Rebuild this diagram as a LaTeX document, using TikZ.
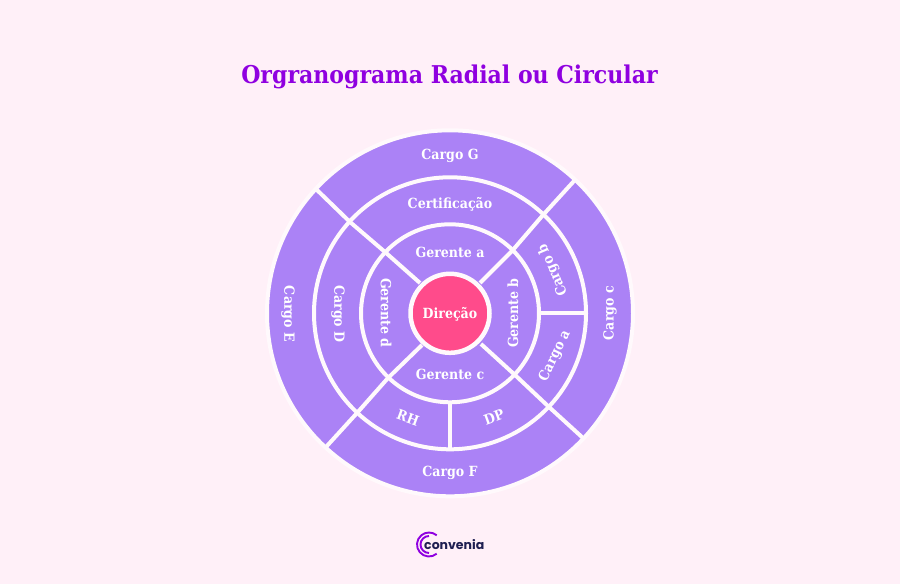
\documentclass[tikz,border=0pt]{standalone}
\usepackage{fontspec}
\setmainfont[FakeStretch=0.9]{DejaVu Serif}
\newfontfamily\logofont{Poppins}
\definecolor{bgpink}{HTML}{FFF0F8}
\definecolor{ringpurple}{HTML}{AB82F6}
\definecolor{corepink}{HTML}{FF4B8B}
\definecolor{titlepurple}{HTML}{8F00E0}
\definecolor{logonavy}{HTML}{1F1F52}
\colorlet{bgwhite}{bgpink!40!white}
\tikzset{
  lbl/.style={text=white,font=\fontsize{14}{15}\selectfont\bfseries,inner sep=0pt},
  ringline/.style={draw=bgwhite,line width=4pt,fill=none},
  spoke/.style={draw=bgwhite,line width=4pt,line cap=butt},
  logoarc/.style={draw=titlepurple,line width=1.9pt},
}
\begin{document}
\begin{tikzpicture}[x=1pt,y=-1pt]
\useasboundingbox (0,0) rectangle (900,584);
\fill[bgpink] (0,0) rectangle (900,584);
\node[font=\fontsize{24.5}{28}\selectfont\bfseries,text=titlepurple,inner sep=0pt] (title) at (449.5,77) {Orgranograma Radial ou Circular};
\coordinate (o) at (450,313.3);
\fill[ringpurple,draw=bgwhite,line width=4pt] (o) circle[radius=183];
\draw[ringline] (o) circle[radius=136];
\draw[ringline] (o) circle[radius=89];
% spokes
\coordinate (tr0) at (480,283); \coordinate (tr1) at (512,251);
\coordinate (tr2) at (543,215); \coordinate (tr3) at (574,181);
\coordinate (tl0) at (420,283); \coordinate (tl1) at (385,252);
\coordinate (tl2) at (350,222); \coordinate (tl3) at (317,190);
\coordinate (bl0) at (422,345); \coordinate (bl1) at (388,378);
\coordinate (bl2) at (357,413); \coordinate (bl3) at (326,447);
\coordinate (br0) at (481,344); \coordinate (br1) at (515,375);
\coordinate (br2) at (549,407); \coordinate (br3) at (583,438);
\foreach \s in {tr,tl,bl,br}{
  \draw[spoke] (\s0) -- (\s1) -- (\s2) -- (\s3);
}
\draw[spoke] (541,313.3) -- (584,313.3);
\draw[spoke] (450,401) -- (450,448);
\fill[corepink,draw=bgwhite,line width=4.5pt] (o) circle[radius=39.5];
\node[lbl] (dir) at (450,314) {Direção};
\node[lbl] (g) at (450,156) {Cargo G};
\node[lbl] (cert) at (450,204) {Certificação};
\node[lbl] (ga) at (450,252.5) {Gerente a};
\node[lbl] (gc) at (450,374.5) {Gerente c};
\node[lbl] (f) at (450,473) {Cargo F};
\node[lbl,rotate=90] (gb) at (513,313) {Gerente b};
\node[lbl,rotate=-90] (gd) at (386,313) {Gerente d};
\node[lbl,rotate=-90] (d) at (338,314) {Cargo D};
\node[lbl,rotate=-90] (e) at (288,314) {Cargo E};
\node[lbl,rotate=90] (c) at (610,313) {Cargo c};
\node[lbl,rotate=64] (a) at (555,356) {Cargo a};
\node[lbl,rotate=113] (b) at (553,270) {Cargo b};
\node[lbl,rotate=-20] (rh) at (408,418) {RH};
\node[lbl,rotate=20] (dp) at (494,417) {DP};
% logo
\coordinate (lg) at (429,544.5);
\draw[logoarc] (lg) ++(50:12) arc[start angle=50,end angle=310,radius=12];
\draw[logoarc] (lg) ++(90:8.5) arc[start angle=90,end angle=270,radius=8.5];
\node[font=\logofont\fontsize{12.5}{15}\selectfont\bfseries,text=logonavy,inner sep=0pt,anchor=base west] (logo) at (424,549) {convenia};
\end{tikzpicture}
\end{document}
